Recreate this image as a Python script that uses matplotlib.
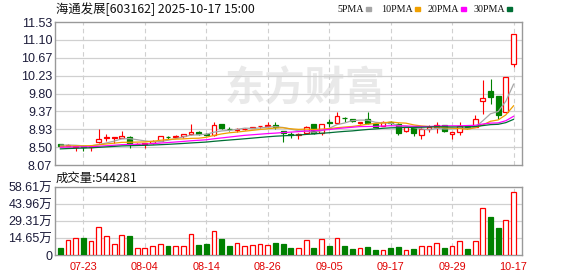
import numpy as np
import pandas as pd
import matplotlib
matplotlib.use("Agg")
import matplotlib.pyplot as plt

# --- data ---
dates = ["07-18", "07-21", "07-22", "07-23", "07-24", "07-25", "07-28", "07-29", "07-30", "07-31",
         "08-01", "08-04", "08-05", "08-06", "08-07", "08-08", "08-11", "08-12", "08-13", "08-14",
         "08-15", "08-18", "08-19", "08-20", "08-21", "08-22", "08-25", "08-26", "08-27", "08-28",
         "08-29", "09-01", "09-02", "09-03", "09-04", "09-05", "09-08", "09-09", "09-10", "09-11",
         "09-12", "09-15", "09-16", "09-17", "09-18", "09-19", "09-22", "09-23", "09-24", "09-25",
         "09-26", "09-29", "09-30", "10-09", "10-10", "10-13", "10-14", "10-15", "10-16", "10-17"]

opens = [8.57, 8.54, 8.51, 8.53, 8.50, 8.62, 8.72, 8.73, 8.73, 8.75,
         8.57, 8.57, 8.60, 8.66, 8.75, 8.74, 8.76, 8.81, 8.87, 8.83,
         8.79, 9.06, 8.95, 8.91, 8.93, 8.97, 9.01, 9.01, 9.04, 8.89,
         8.81, 8.79, 8.84, 9.05, 8.84, 9.10, 9.08, 9.21, 9.18, 9.08,
         9.18, 9.06, 9.02, 9.12, 9.06, 8.90, 8.98, 8.80, 8.95, 8.99,
         9.03, 8.82, 8.86, 9.01, 9.00, 9.61, 9.87, 9.74, 9.36, 10.51]
highs = [8.58, 8.57, 8.54, 8.55, 8.55, 8.94, 8.83, 8.75, 8.90, 8.76,
         8.60, 8.61, 8.67, 8.77, 8.78, 8.79, 8.82, 9.07, 8.89, 8.85,
         9.12, 9.07, 8.99, 8.96, 8.97, 9.00, 9.02, 9.10, 9.10, 8.90,
         8.86, 8.84, 9.01, 9.07, 9.06, 9.18, 9.35, 9.22, 9.19, 9.11,
         9.35, 9.07, 9.13, 9.14, 9.08, 8.99, 8.99, 8.99, 9.03, 9.10,
         9.04, 8.87, 9.10, 9.02, 9.29, 10.13, 10.15, 9.75, 10.21, 11.23]
lows = [8.52, 8.52, 8.41, 8.41, 8.42, 8.60, 8.64, 8.60, 8.72, 8.47,
        8.55, 8.47, 8.59, 8.65, 8.71, 8.72, 8.73, 8.80, 8.79, 8.76,
        8.77, 8.94, 8.90, 8.88, 8.92, 8.96, 8.96, 8.98, 8.93, 8.62,
        8.73, 8.69, 8.83, 8.83, 8.79, 9.00, 9.07, 9.12, 9.12, 9.05,
        9.07, 8.98, 9.01, 9.04, 8.79, 8.87, 8.78, 8.70, 8.86, 8.84,
        8.88, 8.69, 8.80, 8.93, 8.99, 9.30, 9.54, 9.18, 9.33, 10.43]
closes = [8.54, 8.55, 8.53, 8.50, 8.54, 8.71, 8.74, 8.75, 8.77, 8.57,
          8.58, 8.60, 8.66, 8.76, 8.74, 8.78, 8.81, 8.87, 8.81, 8.80,
          9.03, 8.96, 8.94, 8.93, 8.95, 8.99, 9.02, 9.04, 8.99, 8.85,
          8.79, 8.82, 9.00, 8.84, 9.05, 9.08, 9.26, 9.20, 9.13, 9.11,
          9.08, 9.00, 9.12, 9.09, 8.85, 8.98, 8.84, 8.95, 8.99, 9.03,
          8.90, 8.86, 9.01, 8.96, 9.18, 9.69, 9.71, 9.28, 10.21, 11.23]
# closes before the visible window (only used to seed the moving averages)
prior_closes = [8.30, 8.33, 8.35, 8.37, 8.36, 8.40, 8.42, 8.41, 8.43, 8.43,
                8.45, 8.47, 8.50, 8.49, 8.46, 8.48, 8.50, 8.49, 8.47, 8.49,
                8.47, 8.49, 8.50, 8.48, 8.51, 8.53, 8.56, 8.57, 8.55]
volumes = [63200, 129300, 146500, 149400, 120700, 241300, 163800, 94800, 172400, 166600,
           60300, 60300, 77600, 91900, 80400, 77600, 77600, 181000, 86200, 94800,
           204000, 137900, 77600, 100600, 77600, 86200, 94800, 86200, 103400, 94800,
           63200, 60300, 129300, 63200, 137900, 80400, 146500, 80400, 51700, 60300,
           71800, 43100, 43100, 63200, 71800, 43100, 51700, 77600, 77600, 103400,
           63200, 77600, 120700, 51700, 120700, 405100, 327500, 235600, 301700, 544281]

price_ticks = [8.07, 8.50, 8.93, 9.37, 9.80, 10.23, 10.67, 11.10, 11.53]
price_labels = ["8.07", "8.50", "8.93", "9.37", "9.80", "10.23", "10.67", "11.10", "11.53"]
vol_ticks = [0, 146525, 293050, 439575, 586100]
vol_labels = ["0", "14.65万", "29.31万", "43.96万", "58.61万"]
ma_windows = [5, 10, 20, 30]
ma_names = ["5PMA", "10PMA", "20PMA", "30PMA"]

RED = "#ff0000"
GREEN = "#008000"
ma_colors = ["#a6a6a6", "#f0a000", "#ff00ff", "#006f35"]
GRID = "#d0d0d0"
FRAME = "#999999"

W, H = 578, 276
fig = plt.figure(figsize=(W / 100, H / 100), dpi=100)
fig.patch.set_facecolor("white")


def box(l, t, r, b):
    return [l / W, 1 - b / H, (r - l) / W, (b - t) / H]


def fx(x):
    return x / W


def fy(y):
    return 1 - y / H


ax = fig.add_axes(box(55, 22, 522, 165))
axv = fig.add_axes(box(55, 187, 522, 255))

n = len(closes)
x = np.arange(n)
o = np.array(opens)
c = np.array(closes)
up = c >= o
body_w = 0.62

all_close = pd.Series(prior_closes + closes)
mas = [all_close.rolling(w).mean().values[-n:] for w in ma_windows]

label_idx = list(range(3, n, 8))
if label_idx[-1] != n - 1:
    label_idx.append(n - 1)

# watermark
ax.text(0.535, 0.53, "东方财富", transform=ax.transAxes, ha="center", va="center",
        fontsize=29, fontweight="bold", color="#e9e9e9", zorder=0,
        family=["Noto Sans CJK SC", "DejaVu Sans"])

for a in (ax, axv):
    a.set_xlim(-0.7, n + 0.1)
    for s in a.spines.values():
        s.set_color(FRAME)
        s.set_linewidth(1)
    for i in label_idx:
        a.axvline(i, color=GRID, lw=0.8, ls=(0, (4, 3)), zorder=1)
    a.tick_params(length=0)

# candles
ax.vlines(x, lows, highs, colors=[RED if u else GREEN for u in up], lw=0.8, zorder=2)
ax.bar(x[up], (c - o)[up], bottom=o[up], width=body_w, facecolor="white",
       edgecolor=RED, linewidth=0.9, zorder=3)
ax.bar(x[~up], (o - c)[~up], bottom=c[~up], width=body_w, facecolor=GREEN,
       edgecolor=GREEN, linewidth=0.9, zorder=3)
for m, col in zip(mas, ma_colors):
    ax.plot(x, m, color=col, lw=0.9, zorder=4)

ax.set_ylim(price_ticks[0], price_ticks[-1])
ax.set_yticks(price_ticks)
ax.set_yticklabels(price_labels, family="Liberation Sans", fontsize=9, color="#1c1c3a")
for t in price_ticks[1:-1]:
    ax.axhline(t, color=GRID, lw=0.9, zorder=1)
ax.set_xticks([])
ax.tick_params(axis="y", pad=2)

# volume
vol = np.array(volumes)
axv.bar(x[up], vol[up], width=body_w, facecolor="white", edgecolor=RED, linewidth=0.9, zorder=3)
axv.bar(x[~up], vol[~up], width=body_w, facecolor=GREEN, edgecolor=GREEN, linewidth=0.9, zorder=3)
axv.set_ylim(0, vol_ticks[-1])
axv.set_yticks(vol_ticks)
axv.set_yticklabels(vol_labels, family=["Liberation Sans", "Noto Sans CJK SC"], fontsize=9,
                    color="#1c1c3a")
for t in vol_ticks[1:-1]:
    axv.axhline(t, color=GRID, lw=0.9, zorder=1)
axv.set_xticks(label_idx)
axv.set_xticklabels([dates[i] for i in label_idx], family="Liberation Sans", fontsize=7.8,
                    color="#e00000")
axv.tick_params(axis="x", pad=5)
axv.tick_params(axis="y", pad=2)

# header texts
cjk = ["Noto Sans CJK SC", "DejaVu Sans"]
fig.text(fx(56), fy(9), "海通发展[603162] 2025-10-17 15:00", family=cjk, fontsize=8.9,
         va="center", ha="left", color="#111111")
fig.text(fx(56), fy(178), "成交量:%d" % volumes[-1], family=cjk, fontsize=8.9,
         va="center", ha="left", color="#111111")

# legend: text ends just before each colour square
square_x = [366, 415, 461, 507]
for sx, name, col in zip(square_x, ma_names, ma_colors):
    fig.text(fx(sx - 2), fy(9.5), name, family="Liberation Serif", fontsize=7.2,
             va="center", ha="right", color="#111111")
    fig.patches.append(plt.Rectangle((fx(sx), fy(10.5)), 5 / W, 3 / H,
                                     transform=fig.transFigure, color=col))

fig.savefig("out.png", dpi=100, facecolor="white")
